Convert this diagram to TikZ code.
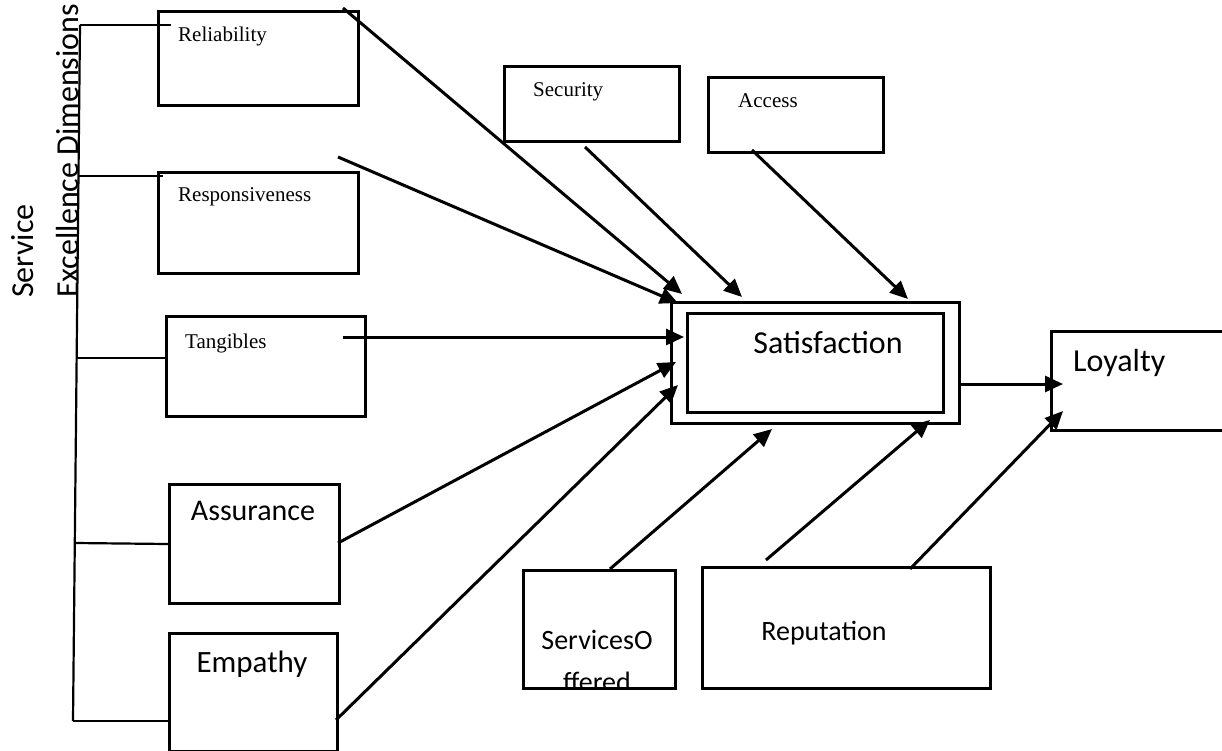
\documentclass[tikz,border=0pt]{standalone}
\usepackage{fontspec}
\setmainfont{Liberation Serif}
\newfontfamily\calibri{Carlito}
\usetikzlibrary{arrows.meta,calc}

\begin{document}
\begin{tikzpicture}[x=1pt,y=-1pt,
  box/.style={draw, line width=3pt, inner sep=0pt, anchor=north west},
  serif/.style={inner sep=0pt, font=\fontsize{21}{25}\selectfont},
  sans/.style={inner sep=0pt, font=\calibri\fontsize{30}{36}\selectfont},
  big/.style={inner sep=0pt, font=\calibri\fontsize{32}{38}\selectfont},
  small/.style={inner sep=0pt, font=\calibri\fontsize{28}{34}\selectfont},
  arr/.style={line width=3pt, -{Triangle[length=18pt,width=16pt]}},
  brace/.style={line width=2.2pt}
]
\useasboundingbox (0,0) rectangle (1222,751);
\clip (0,0) rectangle (1222,751);

% vertical caption of the dimension group
\node[big, rotate=90, anchor=base west] (capA) at (33,298) {Service};
\node[big, rotate=90, anchor=base west] (capB) at (78,298) {Excellence Dimensions};

% service excellence dimensions
\node[box, minimum width=200pt, minimum height=94pt] (rel) at (157,10) {};
\node[box, minimum width=200pt, minimum height=101pt] (res) at (157,171) {};
\node[box, minimum width=199pt, minimum height=100pt] (tan) at (165,315) {};
\node[box, minimum width=170pt, minimum height=119pt] (ass) at (168,483) {};
\node[box, minimum width=168pt, minimum height=118pt] (emp) at (168,632) {};
\node[serif, anchor=base west] (relT) at (178,42) {Reliability};
\node[serif, anchor=base west] (resT) at (178,202) {Responsiveness};
\node[serif, anchor=base west] (tanT) at (185,348) {Tangibles};
\node[sans, anchor=base] (assT) at (253,520) {Assurance};
\node[sans, font=\calibri\fontsize{31}{37}\selectfont, anchor=base] (empT) at (252,672) {Empathy};

% other antecedents
\node[box, minimum width=175pt, minimum height=75pt] (sec) at (503,65) {};
\node[box, minimum width=175pt, minimum height=75pt] (acc) at (707,76) {};
\node[serif, anchor=base west] (secT) at (533,97) {Security};
\node[serif, anchor=base west] (accT) at (738,108) {Access};

\node[box, minimum width=152pt, minimum height=118pt] (svc) at (522,569) {};
\begin{scope}
  \clip (522,569) rectangle (674,687);
  \node[small, anchor=base] (svcT) at (597,649) {ServicesO};
  \node[small, anchor=base] (svcT2) at (597,691) {ffered};
\end{scope}
\node[box, minimum width=288pt, minimum height=121pt] (rep) at (701,566) {};
\node[small, anchor=base] (repT) at (824,640) {Reputation};

% outcomes
\node[box, minimum width=288pt, minimum height=121pt] (sat) at (670,301) {};
\node[box, minimum width=256pt, minimum height=99pt] (satIn) at (686,312) {};
\node[big, anchor=base] (satT) at (828,353) {Satisfaction};
\node[box, minimum width=260pt, minimum height=99pt] (loy) at (1050,330) {};
\node[big, anchor=base west] (loyT) at (1073,371) {Loyalty};

% grouping bracket
\coordinate (bTop) at (80,25);
\coordinate (bBot) at (73,721);
\draw[brace] (bTop) -- (bBot);
\draw[brace] (bTop) -- (171,25);
\draw[brace] (78.5,176) -- (163,176);
\draw[brace] (76.7,358) -- (165,358);
\draw[brace] (74.8,543) -- (ass.west);
\draw[brace] (bBot) -- (168,721);

% arrow start and end points
\coordinate (relO) at (343,8);
\coordinate (resO) at (338,157);
\coordinate (tanO) at (343,337);
\coordinate (assO) at (338,543);
\coordinate (empO) at (336,720);
\coordinate (secO) at (585,147);
\coordinate (accO) at (752,150);
\coordinate (svcO) at (610,569);
\coordinate (repO1) at (766,560);
\coordinate (repO2) at (910,569);
\coordinate (satO) at (958,384);

\coordinate (inRel) at (682,294);
\coordinate (inRes) at (678,303);
\coordinate (inTan) at (684,337);
\coordinate (inAss) at (676,362);
\coordinate (inEmp) at (678,385);
\coordinate (inSec) at (742,297);
\coordinate (inAcc) at (908,299);
\coordinate (inSvc) at (772,429);
\coordinate (inRep) at (930,420);
\coordinate (inLoyB) at (1063,411);
\coordinate (inLoy) at (1063,384);

\draw[arr] (relO) -- (inRel);
\draw[arr] (resO) -- (inRes);
\draw[arr] (tanO) -- (inTan);
\draw[arr] (assO) -- (inAss);
\draw[arr] (empO) -- (inEmp);
\draw[arr] (secO) -- (inSec);
\draw[arr] (accO) -- (inAcc);
\draw[arr] (svcO) -- (inSvc);
\draw[arr] (repO1) -- (inRep);
\draw[arr] (repO2) -- (inLoyB);
\draw[arr] (satO) -- (inLoy);
\end{tikzpicture}
\end{document}
